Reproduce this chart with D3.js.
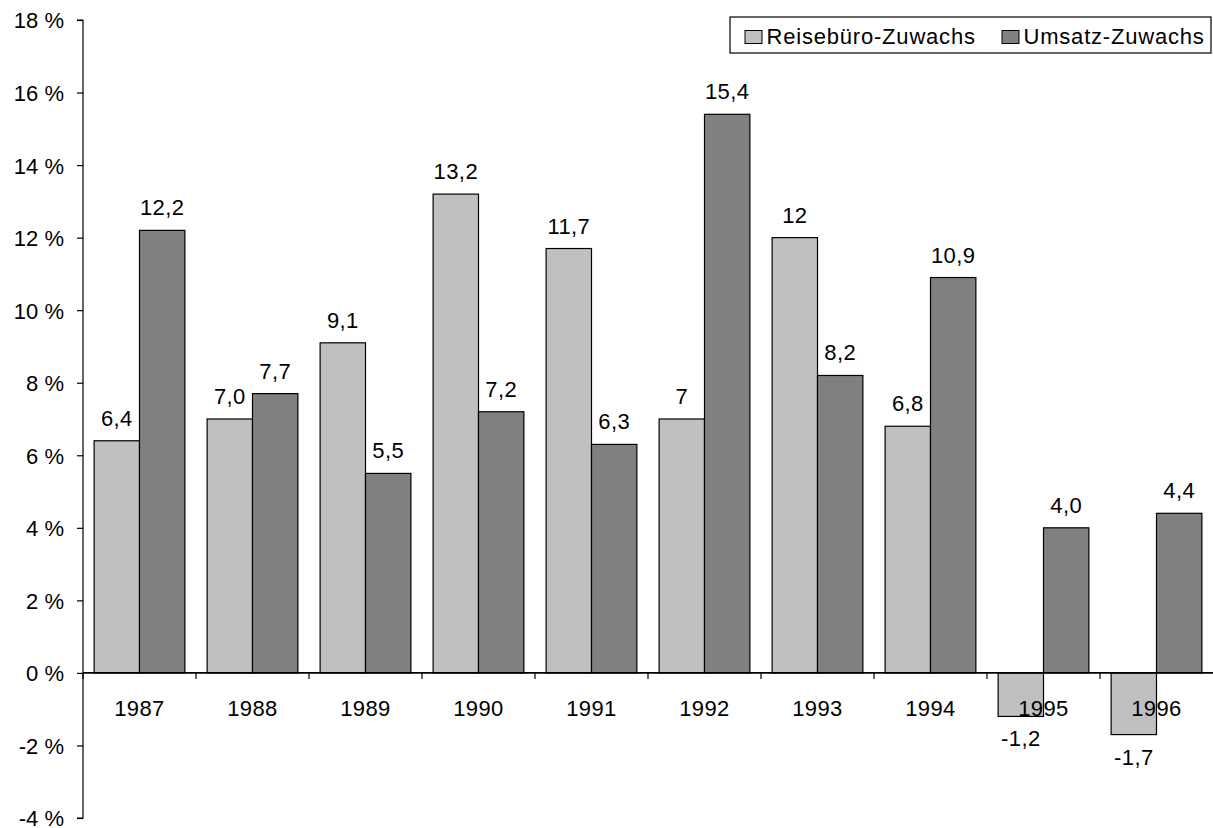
<!DOCTYPE html>
<html>
<head>
<meta charset="utf-8">
<script src="https://cdn.jsdelivr.net/npm/d3@7"></script>
<style>
  body { margin: 0; background: #fff; }
  text { font-family: "Liberation Sans", Arial, sans-serif; fill: #000; }
</style>
</head>
<body>
<div id="chart"></div>
<script>
// Data
var years = ['1987', '1988', '1989', '1990', '1991', '1992', '1993', '1994', '1995', '1996'];
var reisebuero = [6.4, 7.0, 9.1, 13.2, 11.7, 7, 12, 6.8, -1.2, -1.7];
var umsatz = [12.2, 7.7, 5.5, 7.2, 6.3, 15.4, 8.2, 10.9, 4.0, 4.4];
var reiseLabels = ['6,4', '7,0', '9,1', '13,2', '11,7', '7', '12', '6,8', '-1,2', '-1,7'];
var umsatzLabels = ['12,2', '7,7', '5,5', '7,2', '6,3', '15,4', '8,2', '10,9', '4,0', '4,4'];
var seriesNames = ['Reisebüro-Zuwachs', 'Umsatz-Zuwachs'];
var yTicks = [-4, -2, 0, 2, 4, 6, 8, 10, 12, 14, 16, 18];

// Dimensions
var width = 1213;
var height = 828;
var margin = { left: 83, right: 0, top: 20, bottom: 10 };
var colors = ['#c0c0c0', '#808080'];
var fontSize = 22;

var svg = d3.select('#chart')
  .append('svg')
  .attr('width', width)
  .attr('height', height);

var y = d3.scaleLinear()
  .domain([-4, 18])
  .range([height - margin.bottom, margin.top]);

var x = d3.scaleBand()
  .domain(years)
  .range([margin.left, width - margin.right]);

var x1 = d3.scaleBand()
  .domain([0, 1])
  .range([0, x.bandwidth()])
  .paddingOuter(0.245)
  .paddingInner(0);

var rows = years.map(function (yr, i) {
  return { year: yr, vals: [reisebuero[i], umsatz[i]], labels: [reiseLabels[i], umsatzLabels[i]] };
});

// Bars
var groups = svg.append('g').selectAll('g')
  .data(rows)
  .enter()
  .append('g')
  .attr('transform', function (d) { return 'translate(' + x(d.year) + ',0)'; });

groups.selectAll('rect')
  .data(function (d) { return d.vals.map(function (v, k) { return { v: v, k: k }; }); })
  .enter()
  .append('rect')
  .attr('x', function (d) { return x1(d.k); })
  .attr('width', x1.bandwidth())
  .attr('y', function (d) { return y(Math.max(0, d.v)); })
  .attr('height', function (d) { return Math.abs(y(d.v) - y(0)); })
  .attr('fill', function (d) { return colors[d.k]; })
  .attr('stroke', '#000')
  .attr('stroke-width', 1.2);

// Y axis
var yAxis = d3.axisLeft(y)
  .tickValues(yTicks)
  .tickSize(6)
  .tickFormat(function (d) { return d + ' %'; });

var yg = svg.append('g')
  .attr('transform', 'translate(' + margin.left + ',0)')
  .call(yAxis);
yg.select('.domain').attr('stroke', '#000').attr('stroke-width', 1.2)
  .attr('d', 'M-6,' + y(18) + 'H0V' + y(-4) + 'H-6');
yg.selectAll('.tick line').attr('stroke', '#000').attr('stroke-width', 1.2);
yg.selectAll('.tick text')
  .attr('x', -19)
  .attr('dy', '0.36em')
  .style('font-size', fontSize + 'px')
  .attr('font-family', '"Liberation Sans", Arial, sans-serif');

// X axis at zero line
var xg = svg.append('g').attr('class', 'xaxis');
xg.append('line')
  .attr('x1', margin.left).attr('x2', width)
  .attr('y1', y(0)).attr('y2', y(0))
  .attr('stroke', '#000').attr('stroke-width', 1.6);

xg.selectAll('.xtick')
  .data(years)
  .enter()
  .append('line')
  .attr('x1', function (d) { return x(d); })
  .attr('x2', function (d) { return x(d); })
  .attr('y1', y(0)).attr('y2', y(0) + 6)
  .attr('stroke', '#000').attr('stroke-width', 1.2);

xg.selectAll('.xlabel')
  .data(years)
  .enter()
  .append('text')
  .attr('x', function (d) { return x(d) + x.bandwidth() / 2; })
  .attr('y', y(0) + 43)
  .attr('text-anchor', 'middle')
  .style('font-size', fontSize + 'px')
  .style('letter-spacing', '0.4px')
  .text(function (d) { return d; });

// Value labels
groups.selectAll('.vlabel')
  .data(function (d) { return d.vals.map(function (v, k) { return { v: v, k: k, t: d.labels[k] }; }); })
  .enter()
  .append('text')
  .attr('x', function (d) { return x1(d.k) + x1.bandwidth() / 2; })
  .attr('y', function (d) { return d.v >= 0 ? y(d.v) - 15 : y(d.v) + 30; })
  .attr('text-anchor', 'middle')
  .style('font-size', fontSize + 'px')
  .style('letter-spacing', '0.4px')
  .text(function (d) { return d.t; });

// Legend
var legend = svg.append('g').attr('transform', 'translate(730,17)');
legend.append('rect')
  .attr('width', 481).attr('height', 36)
  .attr('fill', '#fff').attr('stroke', '#000').attr('stroke-width', 1.2);

var legendX = [15, 272];
var items = legend.selectAll('.item')
  .data(seriesNames)
  .enter()
  .append('g')
  .attr('transform', function (d, i) { return 'translate(' + legendX[i] + ',0)'; });

items.append('rect')
  .attr('x', 0).attr('y', 13.5)
  .attr('width', 17).attr('height', 13)
  .attr('fill', function (d, i) { return colors[i]; })
  .attr('stroke', '#000').attr('stroke-width', 1);

items.append('text')
  .attr('x', 21.5).attr('y', 26.5)
  .style('font-size', fontSize + 'px')
  .style('letter-spacing', '0.8px')
  .text(function (d) { return d; });
</script>
</body>
</html>
